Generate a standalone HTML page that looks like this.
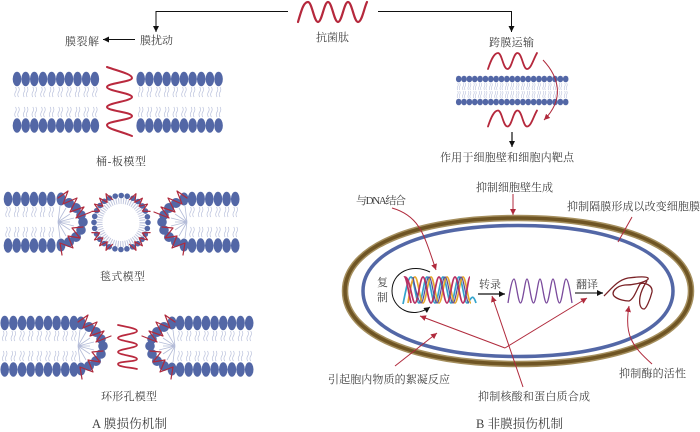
<!DOCTYPE html>
<html><head><meta charset="utf-8"><style>
html,body{margin:0;padding:0;background:#fff}
svg{display:block;filter:blur(.35px)}
text{font-family:"Liberation Serif","Noto Serif CJK SC",serif;font-size:11px;fill:#3f3f3f}
</style></head><body>
<svg width="700" height="432" viewBox="0 0 700 432" xmlns="http://www.w3.org/2000/svg">
<defs>
<marker id="ak" markerUnits="userSpaceOnUse" markerWidth="7" markerHeight="6" refX="6" refY="3" orient="auto"><path d="M0 0L6 3L0 6Z" fill="#111"/></marker>
<marker id="ar" markerUnits="userSpaceOnUse" markerWidth="7" markerHeight="6" refX="6" refY="3" orient="auto"><path d="M0 0L6 3L0 6Z" fill="#b02a3c"/></marker>
<g id="c">
<ellipse cx="0" cy="0" rx="4.3" ry="7.2" fill="#5367a6"/>
<ellipse cx="0" cy="46.5" rx="4.3" ry="7.2" fill="#5367a6"/>
<path d="M-1.5 8q1.6 2.5 0 5t0 5M1.5 8q1.6 2.5 0 5t0 5M-1.5 28q1.6 2.5 0 5t0 5M1.5 28q1.6 2.5 0 5t0 5" fill="none" stroke="#bcc3dd" stroke-width=".7"/>
</g>
<g id="c3"><use href="#c"/><use href="#c" x="8.65"/><use href="#c" x="17.3"/></g>
<g id="c6"><use href="#c3"/><use href="#c3" x="25.95"/></g>
<g id="c10"><use href="#c6"/><use href="#c3" x="51.9"/><use href="#c" x="77.85"/></g>
<g id="s">
<ellipse cx="0" cy="0" rx="2.8" ry="3.3" fill="#5367a6"/>
<ellipse cx="0" cy="23" rx="2.8" ry="3.3" fill="#5367a6"/>
<path d="M-1 4q1 1.8 0 3.5t0 3.5M1 4q1 1.8 0 3.5t0 3.5M-1 12q1 1.8 0 3.5t0 3.5M1 12q1 1.8 0 3.5t0 3.5" fill="none" stroke="#bcc3dd" stroke-width=".6"/>
</g>
<g id="s5"><use href="#s"/><use href="#s" x="5.35"/><use href="#s" x="10.7"/><use href="#s" x="16.05"/><use href="#s" x="21.4"/></g>
<g id="arc">
<path d="M58 222L70 222M58 222L70 214M58 222L70 230M58 222L66 208M58 222L66 236M58 222L74 218M58 222L74 226M58 222L60 206M58 222L60 238" stroke="#b4bcd8" stroke-width=".8" fill="none"/>
<g fill="#5367a6">
<ellipse cx="61" cy="199" rx="4.5" ry="6.5"/><circle cx="69" cy="203" r="5"/><circle cx="76" cy="208" r="5"/><circle cx="81" cy="215" r="4.8"/><circle cx="83" cy="222" r="4.8"/><circle cx="81" cy="230" r="4.8"/><circle cx="76" cy="237" r="5"/><circle cx="69" cy="242" r="5"/><ellipse cx="61" cy="245" rx="4.5" ry="6.5"/>
</g>
<path d="M58 198L68 191L63 204L77 198L70 212L84 207L76 218L91 212M83 227L72 228L80 238L68 236L73 248L60 243L62 255" fill="none" stroke="#b02a3c" stroke-width="1.200" stroke-linejoin="round" stroke-linecap="round"/>
</g>
<polyline id="zz" points="91.9,211.4 99.6,211.1 94.5,204.1 102.9,206.3 99.6,198.2 107.2,202.3 106,193.7 112.4,199.6" fill="none" stroke="#b02a3c" stroke-width="1.200" stroke-linejoin="round" stroke-linecap="round"/>
<path id="w" d="M488 69C491 60 494 53 498 53S503 69 507.500 69S513 53 517.500 53S523 69 527 69S533 60 537 53" fill="none" stroke="#b5283c" stroke-width="1.800" stroke-linecap="round"/>
</defs>

<!-- top lines -->
<g fill="none" stroke="#111" stroke-width="1">
<path d="M288 11.500H156V32" marker-end="url(#ak)"/>
<path d="M378 11.500H511.500V32" marker-end="url(#ak)"/>
<path d="M135 39.500H103" marker-end="url(#ak)"/>
<path d="M512 132V147" marker-end="url(#ak)" stroke-width="1.200"/>
</g>
<path d="M298 22C302 8 304 2 308 2S314 22 318 22S324 2 328 2S334 22 338 22S344 2 348 2S354 22 358 22S364 8 367 2" fill="none" stroke="#b5283c" stroke-width="2.200" stroke-linecap="round"/>

<!-- row 1 -->
<use href="#c10" x="17" y="79"/><use href="#c10" x="140.700" y="79"/>
<path d="M107 67C118 71 132 74 132 78S107 83 107 87S132 93 132 97S107 103 107 107S132 112 132 116S107 121 107 125S120 131 132 136" fill="none" stroke="#b9293e" stroke-width="2" stroke-linecap="round"/>

<!-- row 2 -->
<use href="#c6" x="8" y="199"/><use href="#arc"/>
<use href="#c6" x="192" y="199"/><use href="#arc" transform="translate(245,0) scale(-1,1)"/>
<circle cx="121" cy="222.500" r="21.500" fill="none" stroke="#c0c6de" stroke-width="6" stroke-dasharray="1 1.4"/>
<circle cx="121" cy="222.500" r="27" fill="none" stroke="#5367a6" stroke-width="5.600" stroke-linecap="round" stroke-dasharray="0 6.06"/>
<use href="#zz"/><use href="#zz" transform="translate(242,0) scale(-1,1)"/><use href="#zz" transform="translate(0,444) scale(1,-1)"/><use href="#zz" transform="translate(242,444) scale(-1,-1)"/>

<!-- row 3 -->
<use href="#c6" x="4.700" y="323"/><use href="#c3" x="56.600" y="323"/>
<use href="#arc" transform="translate(20,124)"/>
<use href="#c6" x="180" y="323"/><use href="#c3" x="231.900" y="323"/>
<use href="#arc" transform="translate(233,124) scale(-1,1)"/>
<path d="M118 325C126 327 137 328 137 331S118 335 118 338S137 342 137 345S118 349 118 352S137 356 137 359S118 361 118 364S128 367 137 369" fill="none" stroke="#b9293e" stroke-width="1.700" stroke-linecap="round"/>

<!-- right membrane -->
<use href="#s5" x="458.700" y="79"/><use href="#s5" x="485.450" y="79"/><use href="#s5" x="512.200" y="79"/><use href="#s5" x="538.950" y="79"/>
<use href="#s" x="565.700" y="79"/>
<use href="#w"/><use href="#w" y="57.500"/>
<path d="M543 60C560 78 564 100 544 120" fill="none" stroke="#b02a3c" stroke-width="1" marker-end="url(#ar)"/>

<!-- cell -->
<path d="M345 291C345 247.200 414.200 218 518 218S691 247.200 691 291S621.800 364 518 364S345 334.800 345 291Z" fill="none" stroke="#a58f5e" stroke-width="6.500"/>
<path d="M345 291C345 247.200 414.200 218 518 218S691 247.200 691 291S621.800 364 518 364S345 334.800 345 291Z" fill="none" stroke="#6f5524" stroke-width="3.500"/>
<path d="M363 291C363 251.700 425 225.500 518 225.500S673 251.700 673 291S611 356.500 518 356.500S363 330.300 363 291Z" fill="none" stroke="#5367a6" stroke-width="3.500"/>

<!-- replication -->
<path d="M430 272C412 263 392 272 392 291C392 308 412 320 430 307" fill="none" stroke="#111" stroke-width="1" marker-end="url(#ak)"/>
<g fill="none" stroke-width="1.700">
<path d="M403 304C406 290 408 277 411 277S416 303 419 303S424 277 427 277S432 303 435 303S440 277 443 277S448 303 451 303S456 277 459 277S464 303 467 303S472 290 476 303" stroke="#34a4cc"/>
<path d="M408 303C410 290 412 277 415 277S420 303 423 303S428 277 431 277S436 303 439 303S444 277 447 277S452 303 455 303S460 277 463 277S468 303 471 303" stroke="#e6a92e"/>
<path d="M411 303C408 290 407 280 405 277C410 277 412 303 415 303S420 277 423 277S428 303 431 303S436 277 439 277S444 303 447 303S452 277 455 277S460 303 463 303S468 277 470 277" stroke="#b92f62"/>
<path d="M413 277S418 303 421 303S426 277 429 277S434 303 437 303S442 277 445 277S450 303 453 303S458 277 461 277S466 303 469 303" stroke="#5d4a94" stroke-width="1.200"/>
</g>
<path d="M478 294H505" stroke="#111" stroke-width="1.200" marker-end="url(#ak)"/>
<path d="M508 303C510 290 512 279 514 279S518 303 520.500 303S525 279 527 279S531 303 533.500 303S538 279 540 279S544 303 546.500 303S551 279 553 279S557 303 559.500 303S564 279 566 279S570 290 572 303" fill="none" stroke="#7a4a9c" stroke-width="1.300"/>
<path d="M575 293H603" stroke="#555" stroke-width="1.500" marker-end="url(#ak)"/>
<path d="M604 296C612 288 618 280 628 278C636 277 646 276 648 278C650 281 635 285 625 285C616 286 611 292 614 296C618 300 626 301 629 301C634 299 637 289 640 284C644 282 653 285 652 292C650 300 646 309 644 309C640 309 639 303 640 297C641 291 645 284 647 281" fill="none" stroke="#7a2226" stroke-width="1.300"/>

<!-- red arrows -->
<g fill="none" stroke="#b02a3c" stroke-width="1">
<path d="M513 194V215" marker-end="url(#ar)"/>
<path d="M392 208C420 216 424 235 436 270" marker-end="url(#ar)"/>
<path d="M632 217L618 242"/>
<path d="M395 366L437 333" marker-end="url(#ar)"/>
<path d="M505 348L420 316" marker-end="url(#ar)"/>
<path d="M523 387L492 296" marker-end="url(#ar)"/>
<path d="M505 348L587 298" marker-end="url(#ar)"/>
<path d="M652 364C632 346 624 335 629 306" marker-end="url(#ar)"/>
</g>

<!-- labels -->
<text x="65" y="45" textLength="34">膜裂解</text>
<text x="140" y="44" textLength="33">膜扰动</text>
<text x="316" y="41" textLength="33">抗菌肽</text>
<text x="489" y="46" textLength="45">跨膜运输</text>
<text x="96" y="165" textLength="50">桶-板模型</text>
<text x="100" y="280" textLength="45">毯式模型</text>
<text x="101" y="400" textLength="56">环形孔模型</text>
<text x="92" y="428" textLength="75" style="font-size:12.500px">A 膜损伤机制</text>
<text x="476" y="428" textLength="87" style="font-size:12.500px">B 非膜损伤机制</text>
<text x="440" y="161" textLength="134">作用于细胞壁和细胞内靶点</text>
<text x="476" y="191" textLength="77">抑制细胞壁生成</text>
<text x="356" y="204" textLength="50">与DNA结合</text>
<text x="567" y="210" textLength="133">抑制隔膜形成以改变细胞膜</text>
<text x="377" y="286">复</text>
<text x="377" y="301">制</text>
<text x="479" y="288" textLength="22">转录</text>
<text x="576" y="288" textLength="22">翻译</text>
<text x="328" y="383" textLength="122">引起胞内物质的絮凝反应</text>
<text x="478" y="400" textLength="112">抑制核酸和蛋白质合成</text>
<text x="619" y="377" textLength="67">抑制酶的活性</text>
</svg>
</body></html>
